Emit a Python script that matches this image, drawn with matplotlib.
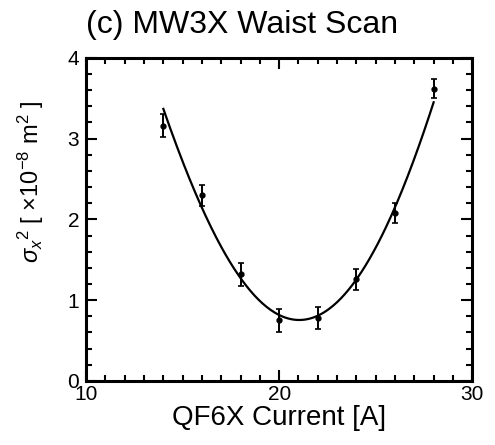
import numpy as np
import matplotlib
matplotlib.use('Agg')
import matplotlib.pyplot as plt
from matplotlib.ticker import MultipleLocator

plt.rcParams['font.family'] = ['Liberation Sans', 'DejaVu Sans']
plt.rcParams['mathtext.fontset'] = 'custom'
plt.rcParams['mathtext.rm'] = 'Liberation Sans'
plt.rcParams['mathtext.it'] = 'Liberation Sans:italic'

# QF6X current [A] and measured sigma_x^2 [1e-8 m^2]
current = [14, 16, 18, 20, 22, 24, 26, 28]
sigma2 = [3.16, 2.30, 1.32, 0.75, 0.78, 1.26, 2.08, 3.62]
sigma2_err = [0.14, 0.13, 0.145, 0.145, 0.135, 0.13, 0.125, 0.115]

# fitted curve
fit_current = [14, 15, 16, 17, 18, 19, 20, 21, 22, 23, 24, 25, 26, 27, 28]
fit_sigma2 = [3.36, 2.72, 2.16, 1.66, 1.26, 0.98, 0.81, 0.76, 0.81, 0.98, 1.27, 1.65, 2.14, 2.74, 3.46]

# smooth the read curve for drawing
coef = np.polyfit(fit_current, fit_sigma2, 4)
xs = np.linspace(fit_current[0], fit_current[-1], 200)
ys = np.polyval(coef, xs)

fig = plt.figure(figsize=(4.95, 4.45), dpi=100)
ax = fig.add_axes([0.174, 0.144, 0.780, 0.726])

ax.plot(xs, ys, color='black', linewidth=1.6)
ax.errorbar(current, sigma2, yerr=sigma2_err, fmt='o', color='black', ms=3.5,
            elinewidth=1.4, capsize=2.5, capthick=1.2)

ax.set_xlim(10, 30)
ax.set_ylim(0, 4)
ax.xaxis.set_major_locator(MultipleLocator(10))
ax.xaxis.set_minor_locator(MultipleLocator(1))
ax.yaxis.set_major_locator(MultipleLocator(1))
ax.yaxis.set_minor_locator(MultipleLocator(0.2))
ax.tick_params(which='both', direction='in', top=True, right=True, labelsize=15, width=1.5)
ax.tick_params(which='major', length=8)
ax.tick_params(which='minor', length=4)
ax.tick_params(axis='x', which='major', pad=3)
ax.tick_params(axis='y', which='major', pad=5)
for s in ax.spines.values():
    s.set_linewidth(2.2)

ax.set_xlabel('QF6X Current [A]', fontsize=20, labelpad=1)
ax.set_ylabel(r'$\sigma_x{}^2$ [ $\times$10$^{-8}$ m$^2$ ]', fontsize=17)
ax.yaxis.set_label_coords(-0.105, 0.615)
ax.set_title('(c) MW3X Waist Scan', fontsize=23, pad=18, loc='left')

fig.savefig('out.png', dpi=100)
